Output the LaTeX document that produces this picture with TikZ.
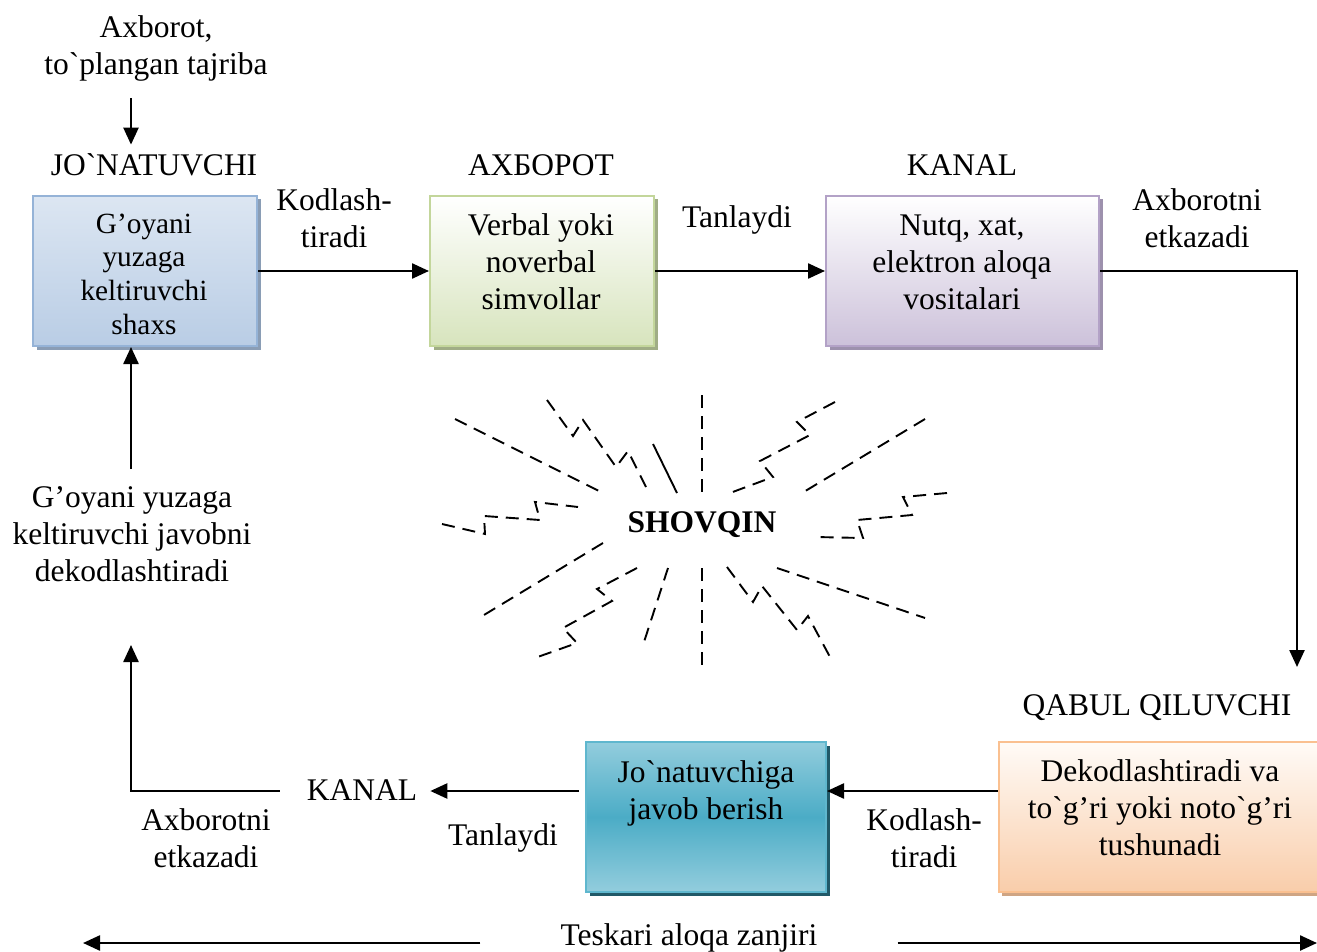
\documentclass[tikz,border=0pt]{standalone}
\usepackage{fontspec}
\setmainfont{Liberation Serif}[Ligatures=TeXOff]
\usetikzlibrary{arrows.meta,shadows}
\definecolor{b1top}{HTML}{DCE6F2}\definecolor{b1bot}{HTML}{B9CDE5}\definecolor{b1dr}{HTML}{95B3D7}\definecolor{b1sh}{HTML}{8A9DB5}
\definecolor{b2top}{HTML}{FFFFFF}\definecolor{b2bot}{HTML}{D7E4BD}\definecolor{b2dr}{HTML}{C3D69B}\definecolor{b2sh}{HTML}{A0AD86}
\definecolor{b3top}{HTML}{FFFFFF}\definecolor{b3bot}{HTML}{CCC1DA}\definecolor{b3dr}{HTML}{B3A2C7}\definecolor{b3sh}{HTML}{9D91AD}
\definecolor{b4top}{HTML}{93CDDD}\definecolor{b4mid}{HTML}{4BACC6}\definecolor{b4dr}{HTML}{5FB7CE}\definecolor{b4sh}{HTML}{215968}
\definecolor{b5top}{HTML}{FFFBF7}\definecolor{b5bot}{HTML}{F9CDAA}\definecolor{b5dr}{HTML}{FAC090}\definecolor{b5sh}{HTML}{CFA584}
\begin{document}
\begin{tikzpicture}[x=1pt,y=-1pt,
  txt/.style={font=\fontsize{31.5}{37}\selectfont, align=center, inner sep=0pt},
  smalltxt/.style={font=\fontsize{29.3}{33.7}\selectfont, align=center, inner sep=0pt},
  bx/.style={rectangle, inner sep=0pt, line width=2pt, minimum height=150pt},
  bxshade/.style n args={4}{top color=#1, bottom color=#2, draw=#3,
    general shadow={fill=#4, shadow xshift=3.5pt, shadow yshift=-3.5pt}},
  arr/.style={line width=2.4pt, -{Triangle[length=17pt,width=15pt]}},
  noise/.style={line width=1.9pt, dash pattern=on 13pt off 8pt},
]
\useasboundingbox (0,0) rectangle (1317,952);

% boxes
\node[bx, minimum width=224pt, bxshade={b1top}{b1bot}{b1dr}{b1sh}] (b1) at (145,271) {};
\node[bx, minimum width=224pt, bxshade={b2top}{b2bot}{b2dr}{b2sh}] (b2) at (542,271) {};
\node[bx, minimum width=273pt, bxshade={b3top}{b3bot}{b3dr}{b3sh}] (b3) at (962.5,271) {};
\node[bx, minimum width=240pt, top color=b4top, bottom color=b4top, middle color=b4mid, draw=b4dr,
  general shadow={fill=b4sh, shadow xshift=3.5pt, shadow yshift=-3.5pt}] (b4) at (706,817) {};
\node[bx, minimum width=319pt, bxshade={b5top}{b5bot}{b5dr}{b5sh}] (b5) at (1158,817) {};

% box texts
\node[smalltxt] (t1) at (144,274) {G’oyani\\yuzaga\\keltiruvchi\\shaxs};
\node[txt] (t2) at (541,262) {Verbal yoki\\noverbal\\simvollar};
\node[txt] (t3) at (962,262) {Nutq, xat,\\elektron aloqa\\vositalari};
\node[txt] (t4) at (706,793) {Jo`natuvchiga\\javob berish};
\node[txt] (t5) at (1160,808) {Dekodlashtiradi va\\to`g’ri yoki noto`g’ri\\tushunadi};

% labels
\node[txt] (src) at (156,48) {Axborot,\\to`plangan tajriba};
\node[txt] (jon) at (154,165) {JO`NATUVCHI};
\node[txt] (axb) at (541,165) {АХБОРОТ};
\node[txt] (kan1) at (962,165) {KANAL};
\node[txt] (kod1) at (334,218) {Kodlash-\\tiradi};
\node[txt] (tan1) at (737,220) {Tanlaydi};
\node[txt] (etk1) at (1197,218) {Axborotni\\etkazadi};
\node[txt] (qab) at (1157,708) {QABUL QILUVCHI};
\node[txt] (kod2) at (924,838) {Kodlash-\\tiradi};
\node[txt] (kan2) at (362,790) {KANAL};
\node[txt] (tan2) at (503,838) {Tanlaydi};
\node[txt] (etk2) at (206,838) {Axborotni\\etkazadi};
\node[txt] (lt) at (132,534) {G’oyani yuzaga\\keltiruvchi javobni\\dekodlashtiradi};
\node[txt, font={\fontsize{31.5}{37}\selectfont\bfseries}] (shv) at (702,525) {SHOVQIN};
\node[txt] (tk) at (689,938) {Teskari aloqa zanjiri};

% free ends
\coordinate (ax) at (131,0);
\coordinate (qa) at (1297,667);
\coordinate (la) at (131,645);
\coordinate (e1) at (83,943);
\coordinate (e2) at (1317,943);

% connectors
\draw[arr, shorten <=17pt, shorten >=9pt] (src.south -| ax) -- (jon.north -| ax);
\draw[arr] (b1) -- (b2);
\draw[arr] (b2) -- (b3);
\draw[arr] (b3.east) -| (qa);
\draw[arr] ([yshift=26pt]b5.west) -- ([yshift=26pt]b4.east);
\draw[arr, shorten <=6pt, shorten >=13pt] ([yshift=26pt]b4.west) -- ([yshift=26pt]b4.west -| kan2.east);
\draw[arr, shorten <=27pt] ([yshift=26pt]b4.west -| kan2.west) -| (la);
\draw[arr, shorten <=17pt] (lt.north -| ax) -- (b1.south -| ax);
\draw[arr, shorten <=80pt] (tk.west |- e1) -- (e1);
\draw[arr, shorten <=80pt] (tk.east |- e2) -- (e2);

% noise
\draw[noise] (455,419) -- (603,493);
\draw[noise] (702,395) -- (702,493);
\draw[line width=1.9pt] (653,444) -- (677,493);
\draw[noise] (547,400) -- (573,436) -- (583,420) -- (616,467) -- (628,451) -- (649,493);
\draw[noise] (835,402) -- (797,422) -- (810,435) -- (760,461) -- (773,477) -- (730,493);
\draw[noise] (925,419) -- (802,493);
\draw[noise] (442,524) -- (485,534) -- (484,516) -- (540,520) -- (535,502) -- (578,507);
\draw[noise] (947,493) -- (903,497) -- (912,515) -- (857,520) -- (863,538) -- (815,537);
\draw[noise] (603,543) -- (479,618);
\draw[noise] (637,568) -- (597,589) -- (612,601) -- (563,628) -- (577,643) -- (532,659);
\draw[noise] (668,568) -- (644,642);
\draw[noise] (702,568) -- (702,667);
\draw[noise] (727,567) -- (753,602) -- (762,586) -- (797,630) -- (808,616) -- (830,657);
\draw[noise] (777,568) -- (925,618);
\end{tikzpicture}
\end{document}
